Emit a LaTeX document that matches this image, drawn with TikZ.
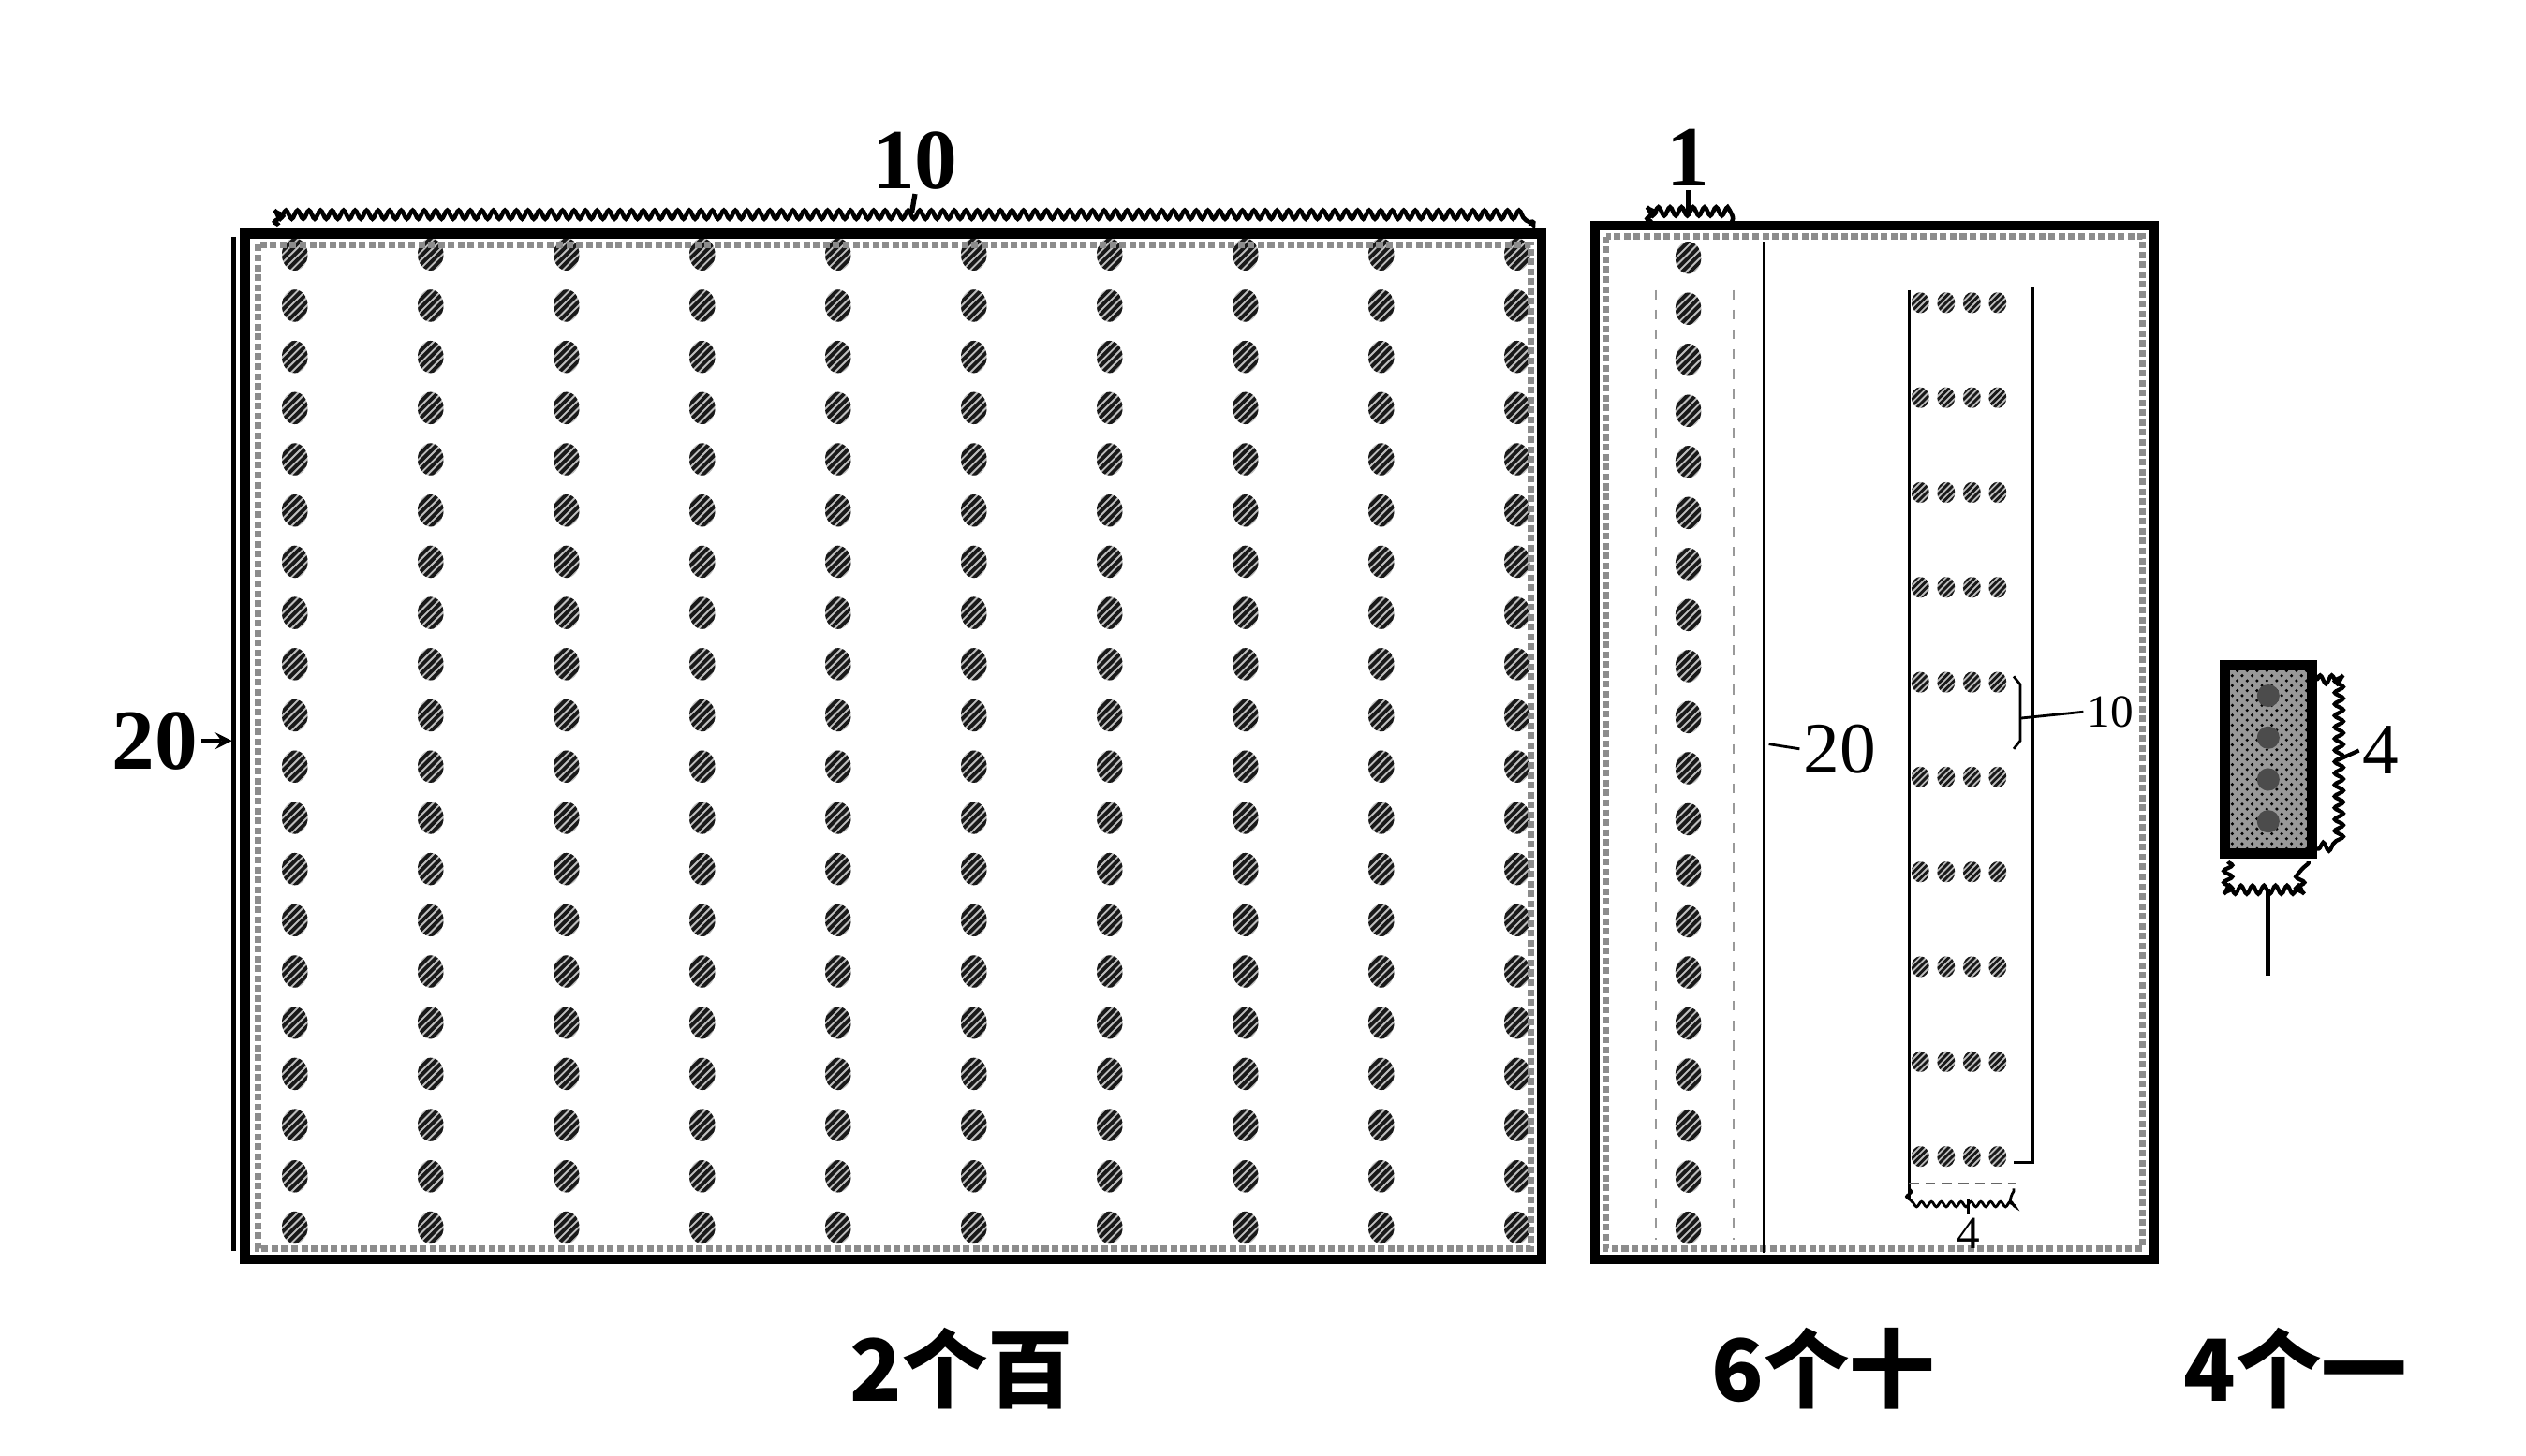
\documentclass[tikz,border=0pt]{standalone}
\usepackage{fontspec}
\setmainfont{Liberation Serif}
\newfontfamily\cjk{Noto Sans CJK SC}
\usetikzlibrary{decorations.pathmorphing,patterns}
\begin{document}
\begin{tikzpicture}[x=0.0172cm,y=-0.0172cm,
  frame/.style={line width=3pt,draw=black},
  stipple/.style={draw=black!45,line width=2pt,densely dotted},
  hatchline/.style={line width=1.1pt,draw=black!90},
  wave/.style={decorate,decoration={snake,amplitude=1.3pt,segment length=3.5pt},line width=1.3pt},
  numlab/.style={font=\bfseries\fontsize{26}{26}\selectfont,inner sep=1pt},
  thinlab/.style={font=\fontsize{22}{22}\selectfont,inner sep=1pt},
  tinylab/.style={font=\fontsize{14}{14}\selectfont,inner sep=1pt},
  cnlab/.style={font=\cjk\bfseries\fontsize{26}{26}\selectfont,inner sep=0pt},
  pics/bead/.style={code={
    \fill[black!25] (0,0) ellipse [x radius=8, y radius=10];
    \begin{scope}
      \clip (0,0) ellipse [x radius=8, y radius=10];
      \foreach \k in {-3,...,3}{\draw[hatchline] ({-12+5*\k},12) -- ({12+5*\k},-12);}
    \end{scope}
  }},
  pics/smallbead/.style={code={
    \fill[black!25] (0,0) ellipse [x radius=5.5, y radius=6.5];
    \begin{scope}
      \clip (0,0) ellipse [x radius=5.5, y radius=6.5];
      \foreach \k in {-2,...,2}{\draw[hatchline,line width=0.8pt] ({-8+4*\k},8) -- ({8+4*\k},-8);}
    \end{scope}
  }}
]
\useasboundingbox (0,0) rectangle (1568,904);

% ---------- hundreds block ----------
\foreach \i in {0,...,9}{
  \foreach \j in {0,...,19}{
    \pic at ({183+84.3*\i},{158+31.8*\j}) {bead};
  }
}
\draw[stipple] (160,152) rectangle (950,775);
\draw[frame] (152,145) rectangle (957,782);
\draw[line width=1.2pt] (145,147) -- (145,777);
% top brace 10
\draw[wave] (173,140) -- (173,132) -- (950,132) -- (950,140);
\coordinate (tenTick) at (566,132);
\node[numlab] (ten) at (568,100) {10};
\draw[line width=1.5pt] (tenTick) -- (ten.south);
% left 20
\node[numlab] (twentyL) at (96,460) {20};
\coordinate (leftEdge) at (144,460);
\draw[line width=1.2pt,->,>={stealth}] (twentyL.east) -- (leftEdge);

% ---------- tens block ----------
\foreach \j in {0,...,19}{
  \pic at (1048,{160+31.7*\j}) {bead};
}
\draw[black!40,dashed,line width=0.6pt] (1028,180) -- (1028,770);
\draw[black!40,dashed,line width=0.6pt] (1076,180) -- (1076,770);
\draw[stipple] (997,147) rectangle (1330,775);
\draw[line width=1pt] (1095,150) -- (1095,778);
\draw[frame] (990,140) rectangle (1337,782);
% top brace 1
\draw[wave] (1025,138) -- (1025,132) -- (1075,132) -- (1075,138);
\node[numlab] (one) at (1048,98) {1};
\coordinate (oneTick) at (1048,132);
\draw[line width=1.5pt] (oneTick) -- (one.south);
% middle 20
\node[thinlab] (twentyM) at (1142,465) {20};
\coordinate (colLine) at (1098,462);
\draw[line width=0.8pt] (twentyM.west) -- (colLine);
% inner 4x10 strip
\draw[line width=0.8pt] (1185,180) -- (1185,745);
\draw[line width=0.8pt] (1262,178) -- (1262,722) -- (1250,722);
\foreach \j in {0,...,9}{
  \foreach \i in {0,...,3}{
    \pic at ({1192+16*\i},{188+58.9*\j}) {smallbead};
  }
}
\draw[black!60,densely dashed,line width=0.7pt] (1185,735) -- (1252,735);
\draw[wave,line width=0.8pt,decoration={amplitude=0.8pt,segment length=3pt}] (1185,738) -- (1185,745) -- (1250,745) -- (1250,738);
\node[tinylab] (fourS) at (1222,766) {4};
\coordinate (fourTick) at (1222,745);
\draw[line width=0.8pt] (fourTick) -- (fourS.north);
\draw[line width=0.8pt] (1250,420) -- (1254,425) -- (1254,460) -- (1250,465);
\node[tinylab] (tenS) at (1310,442) {10};
\coordinate (tenSTick) at (1254,446);
\draw[line width=0.8pt] (tenSTick) -- (tenS.west);

% ---------- ones block ----------
\fill[black!40] (1381,413) rectangle (1435,530);
\fill[pattern=crosshatch dots,pattern color=black] (1381,413) rectangle (1435,530);
\draw[frame] (1381,413) rectangle (1435,530);
\foreach \j in {0,...,3}{
  \fill[black!70] (1408,{432+26*\j}) circle (7);
}
\draw[wave,line width=1.2pt] (1438,422) -- (1451,422) -- (1451,527) -- (1438,527);
\node[numlab,font=\fontsize{22}{22}\selectfont] (fourR) at (1478,466) {4};
\coordinate (fourRTick) at (1451,472);
\draw[line width=1.2pt] (fourRTick) -- (fourR.west);
\draw[wave,line width=1.2pt] (1383,535) -- (1383,552) -- (1433,552) -- (1433,535);
\coordinate (oneB) at (1408,552);
\coordinate (oneBend) at (1408,606);
\draw[line width=1.5pt] (oneB) -- (oneBend);

% ---------- captions ----------
\node[cnlab] (capH) at (597,850) {2个百};
\node[cnlab] (capT) at (1132,850) {6个十};
\node[cnlab] (capO) at (1425,850) {4个一};
\end{tikzpicture}
\end{document}
